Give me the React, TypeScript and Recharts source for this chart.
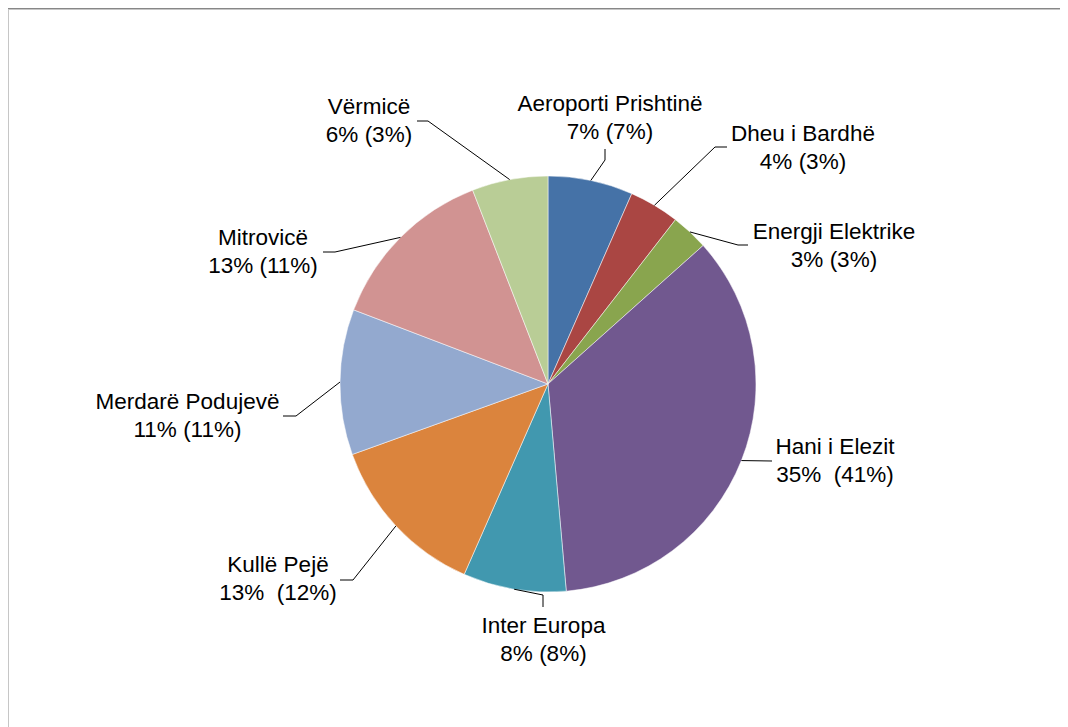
import React from 'react';
import { PieChart, Pie, Cell } from 'recharts';

const categories = [
  'Aeroporti Prishtinë',
  'Dheu i Bardhë',
  'Energji Elektrike',
  'Hani i Elezit',
  'Inter Europa',
  'Kullë Pejë',
  'Merdarë Podujevë',
  'Mitrovicë',
  'Vërmicë',
];
const shares = [6.6, 3.9, 2.9, 35.2, 8.0, 12.9, 11.3, 13.3, 5.9];
const valueLabels = ['7% (7%)', '4% (3%)', '3% (3%)', '35%  (41%)', '8% (8%)', '13%  (12%)', '11% (11%)', '13% (11%)', '6% (3%)'];

const colors = ['#4572A7', '#AA4643', '#89A54E', '#71588F', '#4198AF', '#DB843D', '#93A9CF', '#D19392', '#B9CD96'];

// label placement relative to pie centre: [textX, textY, elbowX, elbowY, endX, endY]
const labelLayout: number[][] = [
  [62, -281, 57, -224, 57, -235],
  [255, -251, 167, -237, 179, -237],
  [286, -153, 190, -139, 200, -139],
  [287, 62, 224, 77, 224, 77],
  [-4.5, 241, -5, 211, -5, 223],
  [-270, 180, -195, 196, -208, 196],
  [-360.5, 17, -252, 32, -265, 32],
  [-285, -146.5, -213, -132, -225, -132],
  [-179, -278, -120, -263, -131, -263],
];

const data = categories.map((name, i) => ({ name, value: shares[i], pct: valueLabels[i] }));

const RAD = Math.PI / 180;

const renderLabel = (props: any) => {
  const { cx, cy, midAngle, outerRadius, index } = props;
  const ex = cx + outerRadius * Math.cos(-midAngle * RAD);
  const ey = cy + outerRadius * Math.sin(-midAngle * RAD);
  const L = labelLayout[index];
  const tx = cx + L[0];
  const ty = cy + L[1];
  const font = { fontFamily: '"Liberation Sans", Arial, sans-serif', fontSize: 22.5, fill: '#000' };
  return (
    <g key={`lbl-${index}`}>
      <polyline
        points={`${ex},${ey} ${cx + L[2]},${cy + L[3]} ${cx + L[4]},${cy + L[5]}`}
        fill="none"
        stroke="#000"
        strokeWidth={1}
      />
      <text x={tx} y={ty} textAnchor="middle" dominantBaseline="central" style={{ ...font, whiteSpace: 'pre' }}>
        {categories[index]}
      </text>
      <text x={tx} y={ty + 28} textAnchor="middle" dominantBaseline="central" style={{ ...font, whiteSpace: 'pre' }}>
        {valueLabels[index]}
      </text>
    </g>
  );
};

export default function App() {
  return (
    <div style={{ position: 'relative', width: 1060, height: 719, overflow: 'hidden', background: '#fff' }}>
      <div style={{ position: 'absolute', left: -1, top: 0, width: 2000, height: 2000, borderLeft: '1px solid #878787', borderTop: '1px solid #878787' }} />
      <div style={{ position: 'absolute', left: 0, top: 1, width: 2000, height: 2000, borderLeft: '1px solid #c6c6c6', borderTop: '1px solid #c6c6c6' }} />
      <div style={{ position: 'absolute', left: 0, top: 0 }}>
        <PieChart width={1060} height={719} margin={{ top: 0, right: 0, bottom: 0, left: 0 }}>
          <Pie
            data={data}
            dataKey="value"
            nameKey="name"
            cx={540}
            cy={376}
            outerRadius={208}
            startAngle={90}
            endAngle={-270}
            stroke="#ffffff"
            strokeWidth={0.5}
            label={renderLabel}
            labelLine={false}
            isAnimationActive={false}
          >
            {data.map((d, i) => (
              <Cell key={d.name} fill={colors[i]} />
            ))}
          </Pie>
        </PieChart>
      </div>
    </div>
  );
}
